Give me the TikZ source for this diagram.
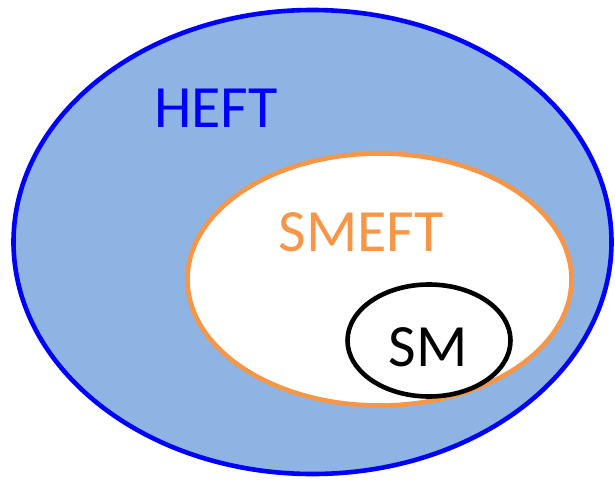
\documentclass[tikz,border=0pt]{standalone}
\usepackage{fontspec}
\setmainfont{Carlito}
\usepackage{xcolor}
\usetikzlibrary{shapes.geometric, positioning}

\definecolor{heftfill}{HTML}{8EB4E3}
\definecolor{heftline}{HTML}{0000FF}
\definecolor{smeftline}{HTML}{F79646}

\begin{document}
\begin{tikzpicture}[
    x=1pt, y=-1pt,
    region/.style={ellipse, inner sep=0pt, line width=4.6pt},
    region_label/.style={font=\fontsize{60}{60}\selectfont, anchor=base, inner sep=0pt}
]
\useasboundingbox (0,0) rectangle (615,481);

% REGIONS
\node[region, draw=heftline, fill=heftfill, minimum width=598pt, minimum height=464pt] (heft) at (312.5,242) {};
\node[region, draw=smeftline, fill=white, minimum width=384pt, minimum height=252pt] (smeft) at (379.5,279.5) {};
\node[region, draw=black, fill=white, minimum width=163pt, minimum height=112pt] (sm) at (429,340.5) {};

% LABELS
\node[region_label, text=heftline] (heft_label) at (216,128) {HEFT};
\node[region_label, text=smeftline] (smeft_label) at (361,251) {SMEFT};
\node[region_label, text=black] (sm_label) at (428,366) {SM};

\end{tikzpicture}
\end{document}
